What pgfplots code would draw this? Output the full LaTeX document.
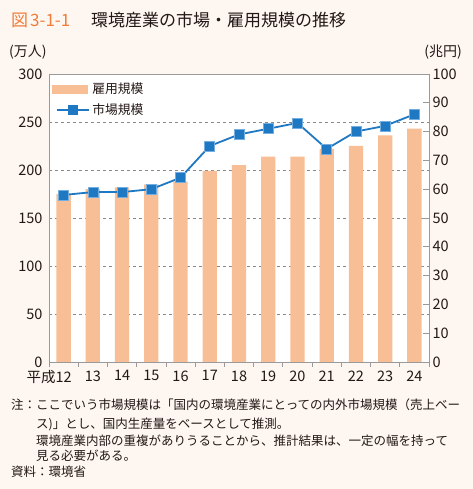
\documentclass[border=0pt]{standalone}
\usepackage{pgfplots}
\pgfplotsset{compat=1.18}
\usepackage{fontspec}
\setmainfont{Noto Sans CJK JP}
\definecolor{bg}{HTML}{FDF6F1}
\definecolor{barc}{HTML}{F8BF96}
\definecolor{linec}{HTML}{1F78C2}
\definecolor{markedge}{HTML}{74AEE0}
\definecolor{gridc}{HTML}{8A8A8A}
\definecolor{axc}{HTML}{9A9A9A}
\definecolor{titleo}{HTML}{EE7E3A}
\definecolor{txt}{HTML}{231815}
\newcommand{\tickfont}{\fontsize{14.5bp}{17bp}\selectfont}
\begin{document}
\begin{tikzpicture}
\fill[bg] (0bp,0bp) rectangle (473bp,489bp);
\begin{axis}[
  at={(49bp,127bp)}, anchor=south west,
  scale only axis, width=380bp, height=288bp,
  xmin=-0.5, xmax=12.5, ymin=0, ymax=300,
  axis background/.style={fill=white},
  axis line style={axc, line width=0.7bp},
  xtick={0,...,12},
  xticklabels={\llap{平成}12,13,14,15,16,17,18,19,20,21,22,23,24},
  minor xtick={-0.5,0.5,...,12.5},
  major tick length=0pt, minor tick length=5bp,
  tick align=outside,
  xtick pos=left, ytick pos=left,
  minor tick style={axc, line width=0.7bp},
  ytick={0,50,...,300},
  ymajorgrids,
  major grid style={gridc, line width=0.6bp, dash pattern=on 3bp off 3bp},
  /pgf/number format/assume math mode=true,
  ticklabel style={font=\tickfont, text=txt},
  yticklabel style={xshift=-3bp},
  xticklabel style={yshift=-5bp},
  ybar, bar width=14.3bp,
]
\addplot[fill=barc, draw=none] coordinates {
(0,175) (1,180) (2,182) (3,185) (4,188) (5,199) (6,205) (7,214) (8,214) (9,222) (10,225) (11,236) (12,243)};
\end{axis}
\begin{axis}[
  at={(49bp,127bp)}, anchor=south west,
  scale only axis, width=380bp, height=288bp,
  xmin=-0.5, xmax=12.5, ymin=0, ymax=100,
  axis x line=none, axis y line*=right,
  axis line style={axc, line width=0.7bp},
  ytick={0,10,...,100},
  tick align=inside, major tick length=6bp,
  tick style={axc, line width=0.7bp},
  /pgf/number format/assume math mode=true,
  ticklabel style={font=\tickfont, text=txt},
  legend style={at={(axis description cs:0,1)}, anchor=north west, xshift=1bp, yshift=-5bp,
    draw=none, fill=none, font=\fontsize{12.8bp}{15bp}\selectfont, text=txt,
    row sep=4.5bp, inner sep=2bp},
  legend cell align=left,
]
\addlegendimage{legend image code/.code={\fill[barc] (0bp,-3.8bp) rectangle (35bp,3.8bp);}}
\addlegendentry{雇用規模}
\addplot[linec, line width=1.8bp, mark=square*, mark size=5bp,
  mark options={fill=linec, draw=markedge, line width=0.6bp},
  legend image code/.code={\draw[linec, line width=1.8bp] (5bp,0bp) -- (37bp,0bp);
     \fill[linec] (17bp,-4.1bp) rectangle (25.2bp,4.1bp);}]
coordinates {
(0,58) (1,59) (2,59) (3,60) (4,64) (5,75) (6,79) (7,81) (8,83) (9,74) (10,80) (11,82) (12,86)};
\addlegendentry{市場規模}
\end{axis}
\node[anchor=west, inner sep=0, text=titleo] at (11bp,468.5bp) {\fontsize{17bp}{20bp}\selectfont 図\hspace{2bp}3-1-1};
\node[anchor=west, inner sep=0, text=txt] at (91bp,468.5bp) {\fontsize{17bp}{20bp}\selectfont 環境産業の市場・雇用規模の推移};
\node[anchor=west, inner sep=0, text=txt] at (9bp,437bp) {\fontsize{14bp}{16bp}\selectfont (万人)};
\node[anchor=east, inner sep=0, text=txt] at (462bp,437bp) {\fontsize{14bp}{16bp}\selectfont (兆円)};
\begin{scope}[every node/.style={anchor=west, inner sep=0, text=txt, font=\fontsize{12.5bp}{15bp}\selectfont}]
\node at (11bp,84bp) {注：ここでいう市場規模は「国内の環境産業にとっての内外市場規模（売上ベー};
\node at (36bp,65bp) {ス)」とし、国内生産量をベースとして推測。};
\node at (36bp,48.3bp) {環境産業内部の重複がありうることから、推計結果は、一定の幅を持って};
\node at (36bp,33.3bp) {見る必要がある。};
\node at (11bp,17bp) {資料：環境省};
\end{scope}
\end{tikzpicture}
\end{document}
